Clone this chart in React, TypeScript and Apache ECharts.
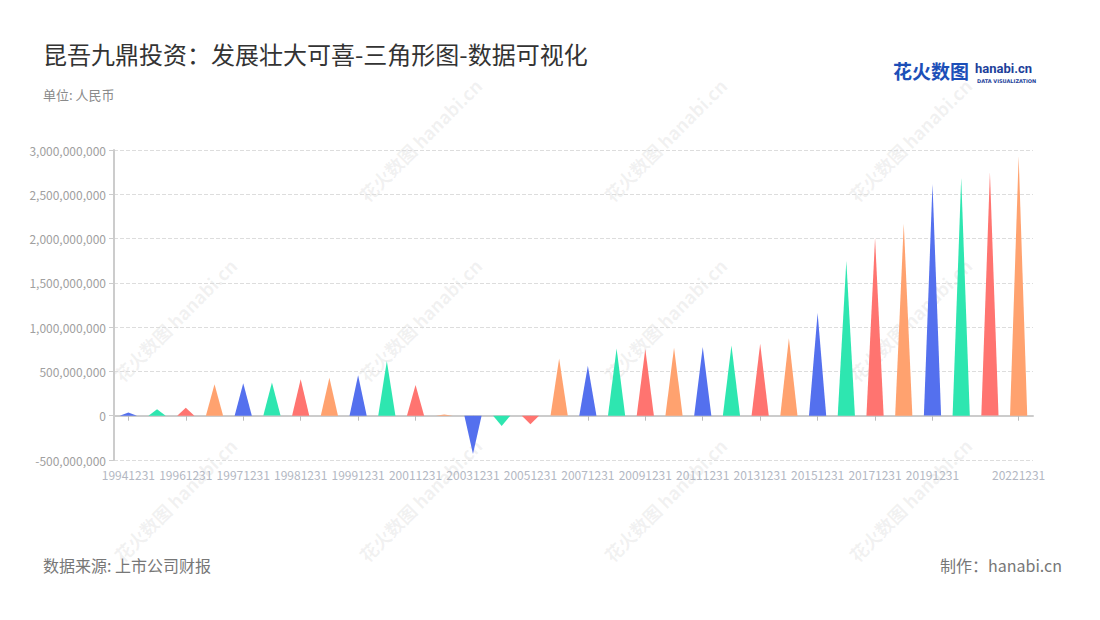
import React, { useEffect, useRef } from "react";
import * as echarts from "echarts";

const categories = [
  "19941231", "19951231", "19961231", "19970630", "19971231", "19980630", "19981231", "19990630",
  "19991231", "20001231", "20011231", "20021231", "20031231", "20041231", "20051231", "20061231",
  "20071231", "20081231", "20091231", "20101231", "20111231", "20121231", "20131231", "20141231",
  "20151231", "20161231", "20171231", "20181231", "20191231", "20201231", "20211231", "20221231",
];

const values = [
  38000000, 72000000, 90000000, 355000000, 366000000, 377000000, 411000000, 429000000,
  456000000, 618000000, 347000000, 15000000, -432000000, -116000000, -97000000, 648000000,
  565000000, 760000000, 752000000, 766000000, 777000000, 793000000, 811000000, 875000000,
  1160000000, 1746000000, 2005000000, 2167000000, 2617000000, 2685000000, 2748000000, 2925000000,
];

const palette = ["#5470ee", "#2ee6b0", "#ff7470", "#ffa26f"];

const titleText = "昆吾九鼎投资：发展壮大可喜-三角形图-数据可视化";
const unitText = "单位: 人民币";
const sourceText = "数据来源: 上市公司财报";
const makerText = "制作：hanabi.cn";

const watermarkPositions = [
  [420, 140], [665, 140], [910, 140],
  [175, 320], [420, 320], [665, 320], [910, 320],
  [175, 500], [420, 500], [665, 500], [910, 500],
];

function showLabel(i: number) {
  return (i % 2 === 0 && i <= 28) || i === categories.length - 1;
}

export default function App() {
  const ref = useRef<HTMLDivElement>(null);
  useEffect(() => {
    document.body.style.margin = "0";
    if (!ref.current) return;
    const chart = echarts.init(ref.current, undefined, { renderer: "svg" });
    const watermarks = watermarkPositions.map(([x, y]) => ({
      type: "text",
      x,
      y,
      rotation: Math.PI / 4,
      silent: true,
      z: 0,
      style: {
        text: "花火数图 hanabi.cn",
        fill: "rgba(150,150,150,0.13)",
        font: "bold 18px 'Noto Sans CJK SC', sans-serif",
        align: "center",
        verticalAlign: "middle",
      },
    }));
    chart.setOption({
      animation: false,
      backgroundColor: "#ffffff",
      textStyle: { fontFamily: "'Noto Sans CJK SC', 'Noto Sans', sans-serif" },
      title: [
        {
          text: titleText,
          left: 38,
          top: 36,
          textStyle: { fontSize: 24, fontWeight: "normal", color: "#333333" },
        },
        {
          text: unitText,
          left: 38,
          top: 83,
          textStyle: { fontSize: 13, fontWeight: "normal", color: "#8a8a8a" },
        },
      ],
      graphic: [
        ...watermarks,
        {
          type: "text",
          left: 893,
          top: 61,
          style: {
            text: "花火数图",
            fill: "#1c4fb8",
            font: "bold 19px 'Noto Sans CJK SC', sans-serif",
          },
        },
        {
          type: "text",
          left: 975,
          top: 62,
          style: {
            text: "hanabi.cn",
            fill: "#1d3f9a",
            font: "bold 13px Roboto, sans-serif",
          },
        },
        {
          type: "text",
          left: 977,
          top: 78,
          style: {
            text: "DATA VISUALIZATION",
            fill: "#1d3f9a",
            font: "bold 5px 'DejaVu Sans', sans-serif",
          },
        },
        {
          type: "text",
          left: 43,
          top: 557,
          style: {
            text: sourceText,
            fill: "#777777",
            font: "16px 'Noto Sans CJK SC', sans-serif",
          },
        },
        {
          type: "text",
          right: 38,
          top: 557,
          style: {
            text: makerText,
            fill: "#777777",
            font: "16px 'Noto Sans CJK SC', sans-serif",
          },
        },
      ],
      grid: { left: 114, right: 67, top: 150, bottom: 160, containLabel: false },
      xAxis: {
        type: "category",
        data: categories,
        axisLine: { show: true, lineStyle: { color: "#cccccc", width: 2 } },
        axisTick: {
          show: true,
          alignWithLabel: true,
          interval: (i: number) => showLabel(i),
          lineStyle: { color: "#bbbbbb" },
        },
        axisLabel: {
          interval: (i: number) => showLabel(i),
          color: "#b3b8c3",
          fontSize: 12,
          margin: 8,
        },
      },
      yAxis: {
        type: "value",
        min: -500000000,
        max: 3000000000,
        interval: 500000000,
        axisLine: { show: true, lineStyle: { color: "#cccccc", width: 2 } },
        axisTick: { show: true, lineStyle: { color: "#cccccc" } },
        axisLabel: {
          color: "#a0a0a0",
          fontSize: 12,
          formatter: (v: number) => v.toLocaleString("en-US"),
        },
        splitLine: { show: true, lineStyle: { color: "#dddddd", type: "dashed" } },
      },
      series: [
        {
          type: "pictorialBar",
          symbol: "triangle",
          symbolSize: [17, "100%"],
          data: values,
          z: 10,
          itemStyle: {
            color: (p: any) => palette[p.dataIndex % palette.length],
          },
        },
      ],
    });
    return () => chart.dispose();
  }, []);
  return <div ref={ref} style={{ width: 1100, height: 620 }} />;
}
